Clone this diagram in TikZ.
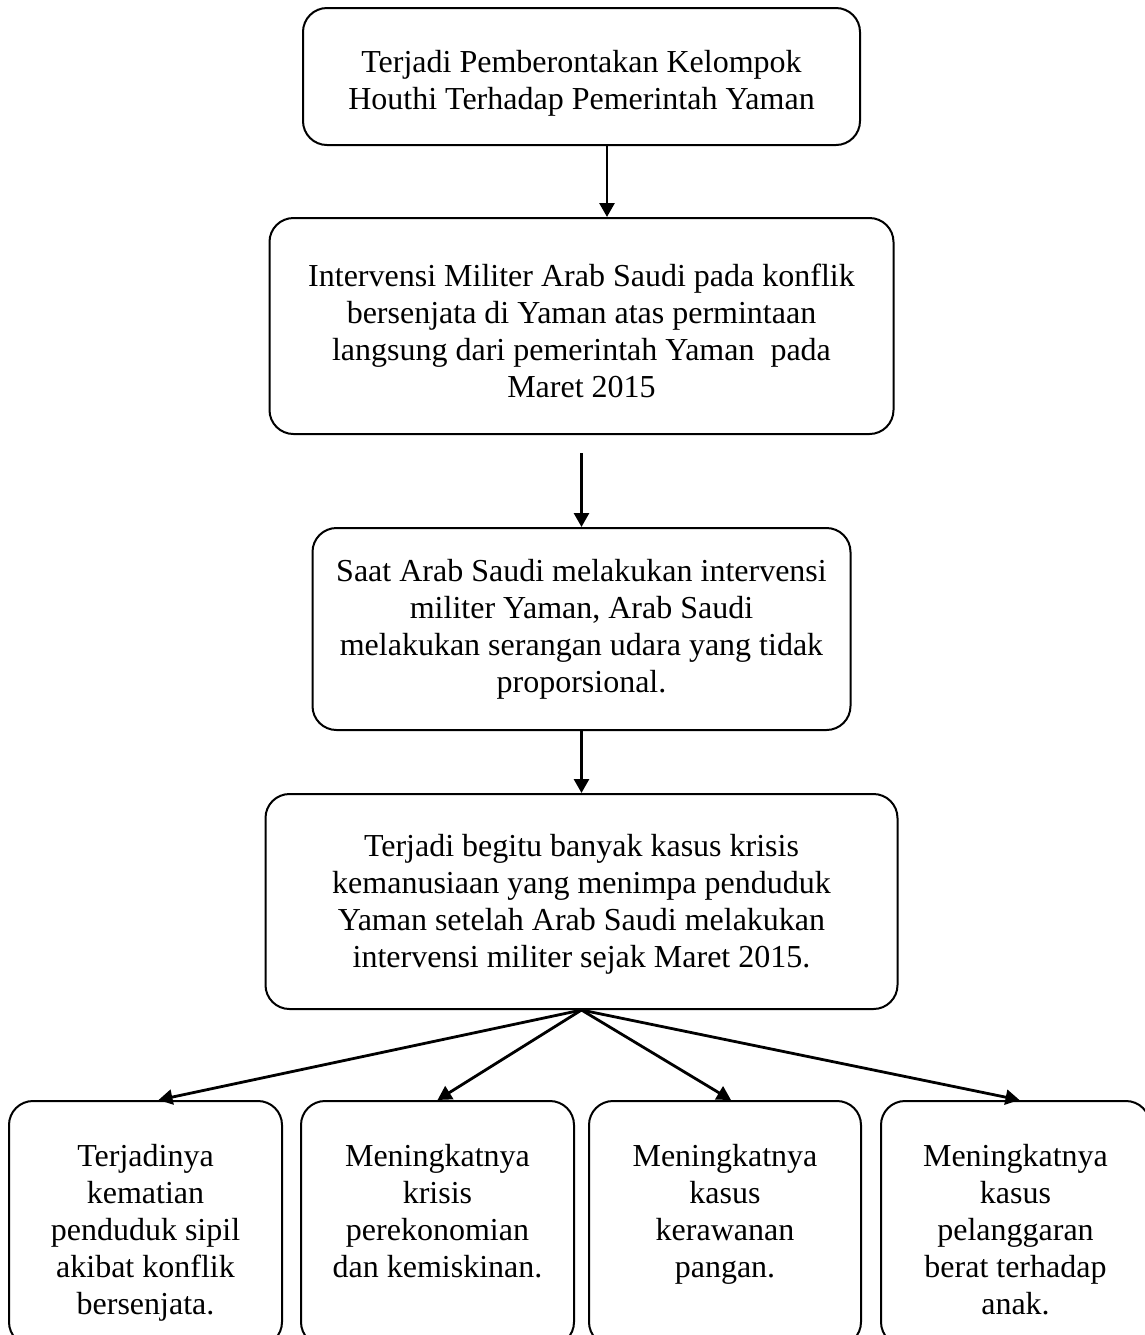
\documentclass[tikz,border=0pt]{standalone}
\usepackage{fontspec}
\setmainfont{Liberation Serif}
\usetikzlibrary{shapes.geometric, arrows.meta, arrows,positioning}

\begin{document}
\begin{tikzpicture}
    [auto,
    font=\fontsize{16pt}{18.5pt}\selectfont,
    block/.style={rectangle, draw=black, line width=1pt,
    align=center, rounded corners=12pt},
    result/.style={block, anchor=north, minimum width=136.5pt, text width=120pt,
    align=flush center, text height=11pt, text depth=68.5pt, inner ysep=21.5pt},
    line/.style={draw, line width=1.4pt, -{Triangle[length=7pt,width=7.5pt]}}]

    \useasboundingbox (0,0) rectangle (572.5pt,-667.5pt);

    \node [block, minimum width=278.5pt, minimum height=68.5pt, text height=36.5pt] (houthi) at (290.75pt,-38.25pt)
        {Terjadi Pemberontakan Kelompok\\Houthi Terhadap Pemerintah Yaman};
    \node [block, minimum width=312pt, minimum height=108pt, text height=71.5pt, below=35.5pt of houthi] (intervensi)
        {Intervensi Militer Arab Saudi pada konflik\\bersenjata di Yaman atas permintaan\\langsung dari pemerintah Yaman~ pada\\Maret 2015};
    \node [block, minimum width=269pt, minimum height=101pt, below=46pt of intervensi] (serangan)
        {Saat Arab Saudi melakukan intervensi\\militer Yaman, Arab Saudi\\melakukan serangan udara yang tidak\\proporsional.};
    \node [block, minimum width=316pt, minimum height=107.5pt, text height=69.5pt, below=31pt of serangan] (krisis)
        {Terjadi begitu banyak kasus krisis\\kemanusiaan yang menimpa penduduk\\Yaman setelah Arab Saudi melakukan\\intervensi militer sejak Maret 2015.};

    \node [result] (kematian) at (72.75pt,-550pt)
        {Terjadinya\\kematian\\penduduk sipil\\akibat konflik\\bersenjata.};
    \node [result, right=8.5pt of kematian] (ekonomi)
        {Meningkatnya\\krisis\\perekonomian\\dan kemiskinan.};
    \node [result, minimum width=136pt, right=6.5pt of ekonomi] (pangan)
        {Meningkatnya\\kasus\\kerawanan\\pangan.};
    \node [result, minimum width=134.5pt, right=9pt of pangan] (anak)
        {Meningkatnya\\kasus\\pelanggaran\\berat terhadap\\anak.};

    \begin{scope}[every path/.style=line]
        \path ([xshift=12.75pt]houthi.south) -- ([xshift=12.75pt]houthi.south |- intervensi.north);
        \path ([yshift=-9pt]intervensi.south) -- (serangan.north);
        \path (serangan.south) -- (krisis.north);
        \path (krisis.south) -- ([xshift=6.5pt]kematian.north);
        \path (krisis.south) -- (ekonomi.north);
        \path (krisis.south) -- ([xshift=3pt]pangan.north);
        \path (krisis.south) -- ([xshift=2pt]anak.north);
    \end{scope}
    \end{tikzpicture}
\end{document}
